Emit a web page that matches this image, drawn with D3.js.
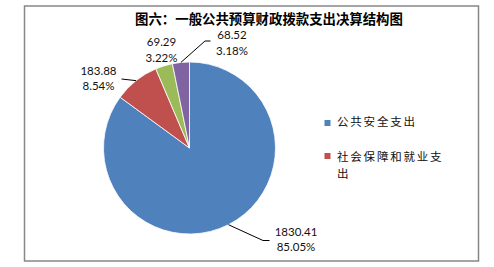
<html>

<head>
    <meta charset="utf-8">
    <script src="https://d3js.org/d3.v7.min.js"></script>
    <style>
        body { margin: 0; background: white; }
    </style>
</head>

<body>
    <svg id="chart" width=494 height=267></svg>
    <script>
        // data
        const categories = ["公共安全支出", "社会保障和就业支出", "其他1", "其他2"];
        const values = [1830.41, 183.88, 69.29, 68.52];
        const percents = ["85.05%", "8.54%", "3.22%", "3.18%"];
        const legendLines = [["公共安全支出"], ["社会保障和就业支", "出"]];
        const title = "图六：一般公共预算财政拨款支出决算结构图";

        const colors = ["#4f81bd", "#c0504d", "#9bbb59", "#8064a2"];

        let svg = d3.select("#chart");

        // frame
        svg.append("rect")
            .attr("x", 24.5)
            .attr("y", 6)
            .attr("width", 454)
            .attr("height", 255)
            .attr("fill", "white")
            .attr("stroke", "#878787")
            .attr("stroke-width", 1.5);

        svg.append("text")
            .attr("x", 269)
            .attr("y", 20)
            .attr("text-anchor", "middle")
            .attr("dominant-baseline", "middle")
            .attr("font-family", "Noto Sans CJK SC")
            .attr("font-weight", "bold")
            .attr("font-size", "13.4px")
            .text(title);

        const cx = 189.5, cy = 148, r = 86;

        let pie = d3.pie().sort(null).value(d => d);
        let arcs = pie(values);
        let arc = d3.arc().innerRadius(0).outerRadius(r);

        let g = svg.append("g").attr("transform", `translate(${cx},${cy})`);
        arcs.forEach((d, i) => {
            g.append("path")
                .attr("d", arc(d))
                .attr("fill", colors[i])
                .attr("stroke", "white")
                .attr("stroke-width", 0.8);
        });

        // label layout: text center, first line y, leader elbow points (null = no leader)
        const labelPos = [
            { x: 296, y: 233, leader: [[263, 240.5], [269.5, 240.5]] },
            { x: 98.5, y: 72, leader: [[121.5, 79]] },
            { x: 161.5, y: 43.5, leader: null },
            { x: 232, y: 36.5, leader: [[205, 41], [210.5, 41]] }
        ];

        arcs.forEach((d, i) => {
            let p = labelPos[i];
            let mid = (d.startAngle + d.endAngle) / 2;
            let ex = cx + r * Math.sin(mid);
            let ey = cy - r * Math.cos(mid);
            if (p.leader) {
                let pts = [[ex, ey]].concat(p.leader);
                svg.append("path")
                    .attr("d", d3.line()(pts))
                    .attr("fill", "none")
                    .attr("stroke", "black")
                    .attr("stroke-width", 1);
            }
            let t = svg.append("text")
                .attr("text-anchor", "middle")
                .attr("font-family", "Lato, Liberation Sans, sans-serif")
                .attr("font-size", "11.5px")
                .attr("fill", "#111");
            [values[i].toFixed(2), percents[i]].forEach((s, k) => {
                t.append("tspan")
                    .attr("x", p.x)
                    .attr("y", p.y + k * 15.5)
                    .attr("dominant-baseline", "middle")
                    .text(s);
            });
        });

        // legend (only the first two entries fit, like the original)
        const legendY = [123, 156];
        legendLines.forEach((lines, i) => {
            svg.append("rect")
                .attr("x", 324.5)
                .attr("y", legendY[i] - 3)
                .attr("width", 6)
                .attr("height", 6)
                .attr("fill", colors[i]);
            let t = svg.append("text")
                .attr("font-family", "Noto Sans CJK SC")
                .attr("font-size", "11.5px")
                .attr("letter-spacing", "1.8px")
                .attr("fill", "#111");
            lines.forEach((s, k) => {
                t.append("tspan")
                    .attr("x", 337)
                    .attr("y", legendY[i] + (i == 0 ? 0 : 2) + k * 16.5)
                    .attr("dominant-baseline", "middle")
                    .text(s);
            });
        });
    </script>
</body>

</html>
